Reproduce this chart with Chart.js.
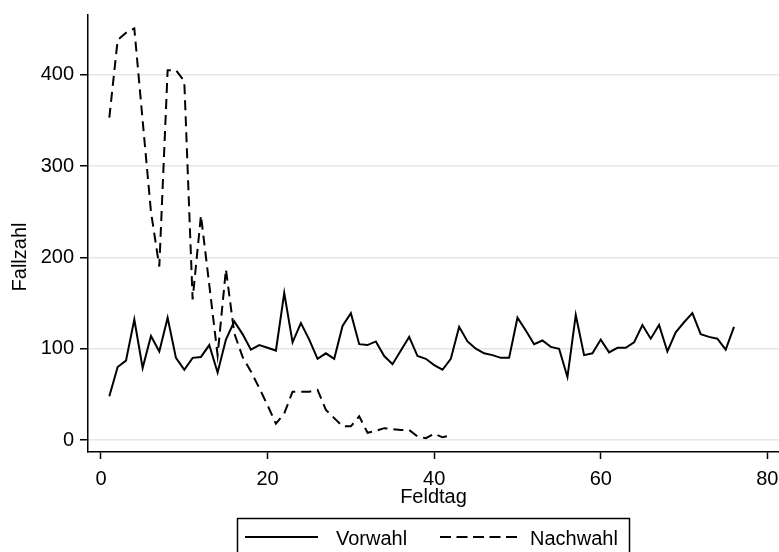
<!DOCTYPE html>
<html>
<head>
<meta charset="utf-8">
<script src="https://cdn.jsdelivr.net/npm/chart.js@4/dist/chart.umd.min.js"></script>
<style>
	body { margin: 0; background: #fff; }
	canvas { display: block; }
</style>
</head>
<body>
<canvas id="chart" width="779" height="552"></canvas>
<script>
// Fallzahl je Feldtag
let vorwahl = [
	48, 80, 87, 132, 79, 114, 97, 134, 90, 77,
	90, 91, 104, 74, 110, 130, 116, 99, 104, 101,
	98, 161, 107, 128, 110, 89, 95, 89, 125, 139,
	105, 104, 108, 92, 83, 98, 113, 92, 89, 82,
	77, 89, 124, 108, 100, 95, 93, 90, 90, 134,
	120, 105, 109, 102, 100, 69, 137, 93, 95, 110,
	96, 101, 101, 107, 126, 111, 126, 97, 118, 129,
	139, 116, 113, 111, 99, 124,
];
let nachwahl = [
	353, 438, 446, 451, 350, 250, 190, 405, 405, 393,
	154, 246, 170, 93, 187, 117, 91, 75, 57, 38,
	18, 29, 53, 53, 53, 55, 33, 24, 15, 15,
	26, 8, 10, 13, 12, 11, 11, 4, 2, 7,
	3, 5,
];
let xTicks = [0, 20, 40, 60, 80];
let yTicks = [0, 100, 200, 300, 400];

const font = "'Liberation Sans', Arial, sans-serif";

function toPoints(values) {
	// Feldtag beginnt bei 1
	return values.map((v, i) => ({ x: i + 1, y: v }));
}

const legendBox = {
	id: "legendBox",
	afterDraw(chart) {
		const ctx = chart.ctx;
		ctx.save();
		// y axis title
		ctx.fillStyle = "#000";
		ctx.font = "20px " + font;
		ctx.textAlign = "center";
		ctx.textBaseline = "middle";
		ctx.translate(20, 257);
		ctx.rotate(-Math.PI / 2);
		ctx.fillText("Fallzahl", 0, 0);
		ctx.setTransform(1, 0, 0, 1, 0, 0);

		// legend
		ctx.strokeStyle = "#000";
		ctx.lineWidth = 1.5;
		ctx.strokeRect(237.5, 518.5, 392, 40);
		let ds = chart.data.datasets;
		ctx.lineWidth = 2;
		ctx.beginPath();
		ctx.moveTo(245, 537);
		ctx.lineTo(318, 537);
		ctx.stroke();
		ctx.setLineDash([11, 5.5]);
		ctx.beginPath();
		ctx.moveTo(440, 537);
		ctx.lineTo(517, 537);
		ctx.stroke();
		ctx.setLineDash([]);
		ctx.textAlign = "left";
		ctx.fillText(ds[0].label, 336, 539);
		ctx.fillText(ds[1].label, 530, 539);
		ctx.restore();
	},
};

let data = {
	datasets: [
		{
			label: "Vorwahl",
			data: toPoints(vorwahl),
			borderColor: "#000",
			borderWidth: 2,
			pointRadius: 0,
			tension: 0,
		},
		{
			label: "Nachwahl",
			data: toPoints(nachwahl),
			borderColor: "#000",
			borderWidth: 2,
			borderDash: [10, 6],
			pointRadius: 0,
			tension: 0,
		},
	],
};

let config = {
	type: "line",
	data: data,
	options: {
		responsive: false,
		animation: false,
		layout: {
			padding: { left: 0, right: 0, top: 15, bottom: 42 },
		},
		plugins: {
			legend: { display: false },
			tooltip: { enabled: false },
		},
		scales: {
			x: {
				type: "linear",
				min: -1.56,
				max: 81.4,
				afterBuildTicks: (s) => {
					s.ticks = xTicks.map((v) => ({ value: v }));
				},
				afterFit: (s) => {
					s.height = 58;
					s.paddingLeft = 0;
					s.paddingRight = 0;
				},
				border: { display: true, color: "#000", width: 1.5 },
				grid: {
					drawOnChartArea: false,
					drawTicks: true,
					tickLength: 7,
					tickColor: "#000",
					tickWidth: 1.5,
				},
				ticks: {
					color: "#000",
					font: { family: font, size: 20 },
					padding: 8,
					maxRotation: 0,
				},
				title: {
					display: true,
					text: "Feldtag",
					color: "#000",
					font: { family: font, size: 20 },
					padding: { top: 0, bottom: 1 },
				},
			},
			y: {
				min: -13.1,
				max: 465.5,
				afterBuildTicks: (s) => {
					s.ticks = yTicks.map((v) => ({ value: v }));
				},
				afterFit: (s) => {
					s.width = 88;
					s.paddingTop = 0;
					s.paddingBottom = 0;
				},
				border: { display: true, color: "#000", width: 1.5 },
				grid: {
					color: "#e6e6e6",
					lineWidth: 1.5,
					drawTicks: true,
					tickLength: 8,
					tickColor: "#000",
					tickWidth: 1.5,
				},
				ticks: {
					color: "#000",
					font: { family: font, size: 20 },
					padding: 6,
				},
			},
		},
	},
	plugins: [legendBox],
};

const chart = new Chart(document.getElementById("chart"), config);
</script>
</body>
</html>
